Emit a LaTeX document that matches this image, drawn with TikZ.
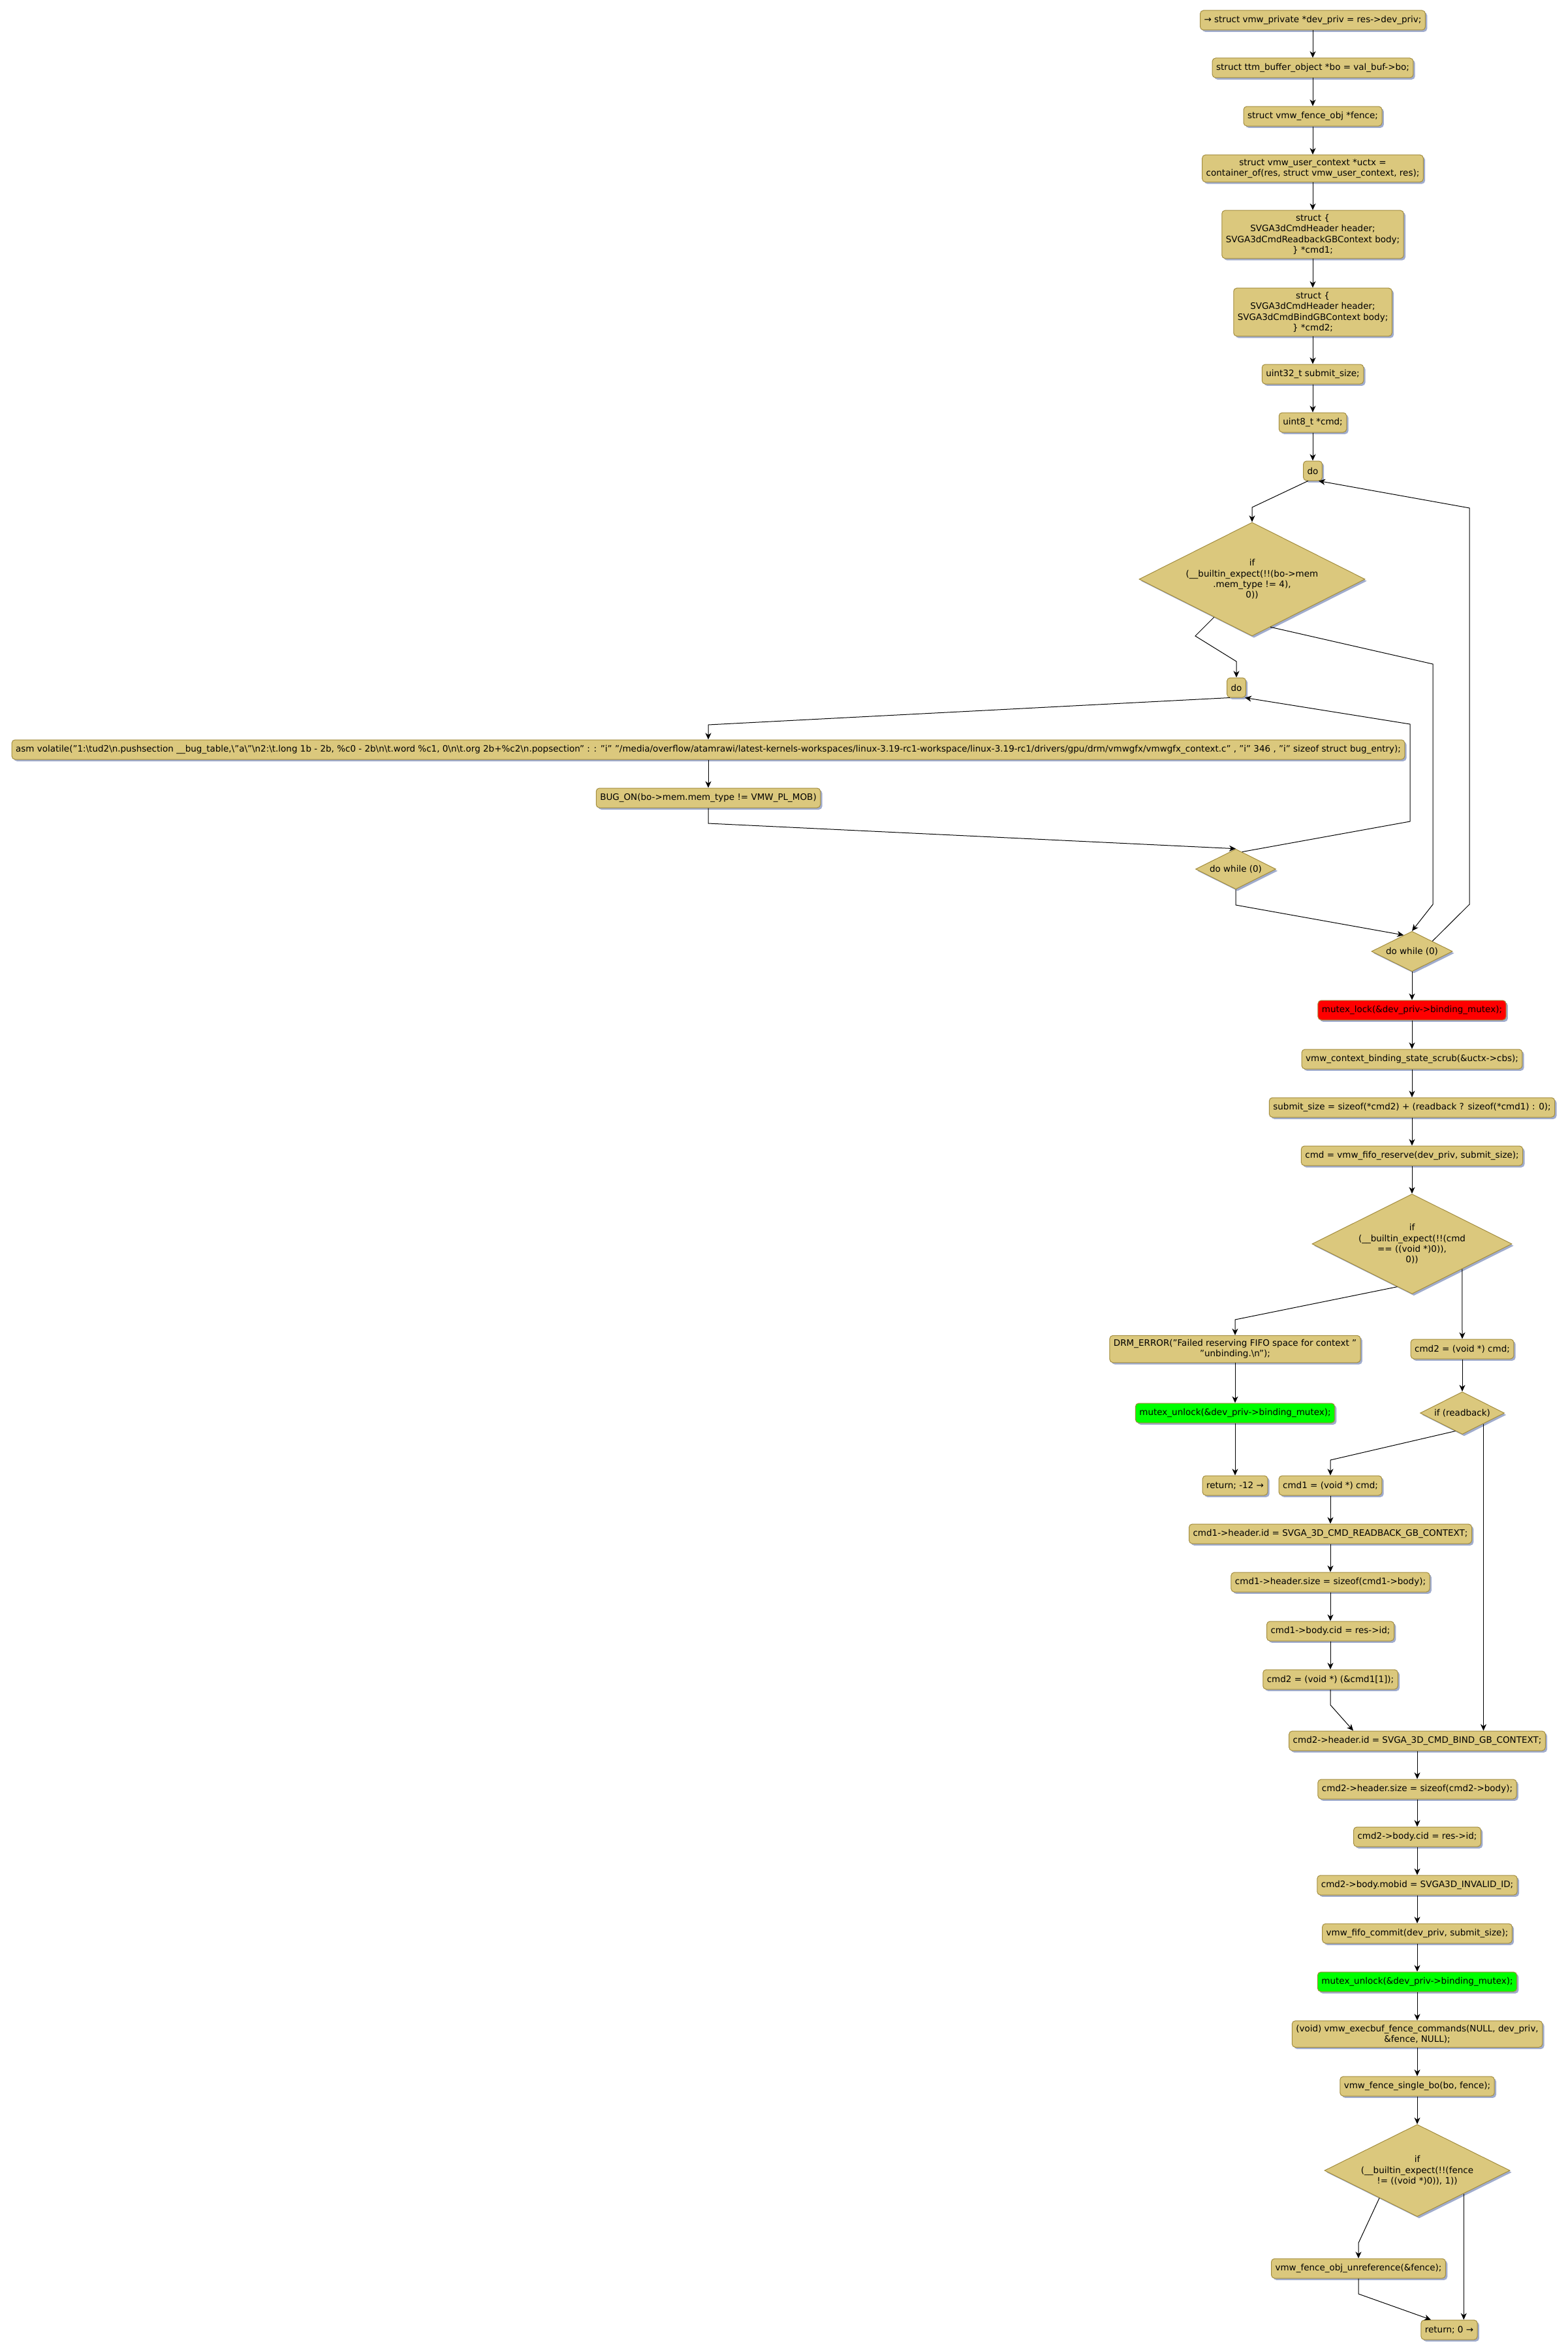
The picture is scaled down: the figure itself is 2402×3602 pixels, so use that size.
\documentclass[tikz,border=0pt]{standalone}
\usepackage{fontspec}
\setmainfont{DejaVu Sans}
\usetikzlibrary{shapes.geometric, arrows.meta, shadows}

\definecolor{boxtan}{RGB}{219,200,125}
\definecolor{boxline}{RGB}{163,141,63}
\definecolor{shadowblue}{RGB}{160,172,205}
\definecolor{lockred}{RGB}{255,0,0}
\definecolor{unlockgreen}{RGB}{0,255,0}
\newcommand{\bsl}{\textbackslash}

\tikzset{
    stmt/.style={rectangle, rounded corners=2.5pt, draw=boxline, fill=boxtan, line width=0.5pt,
        align=center, inner xsep=3pt, inner ysep=3pt, minimum height=15pt,
        font=\fontsize{6.75}{8.2}\selectfont,
        drop shadow={shadow xshift=1.4pt, shadow yshift=-1.4pt, fill=shadowblue, opacity=1}},
    cond/.style={diamond, aspect=2, draw=boxline, fill=boxtan, line width=0.5pt, align=center, inner sep=0pt,
        font=\fontsize{6.75}{8.2}\selectfont,
        drop shadow={shadow xshift=1.4pt, shadow yshift=-1.4pt, fill=shadowblue, opacity=1}},
    flow/.style={-{Stealth[length=5pt, width=4.5pt, inset=1.5pt]}, line width=0.5pt}
}

\begin{document}
\begin{tikzpicture}[x=0.5pt, y=-0.5pt]
        % Canvas
        \fill[white] (0, 0) rectangle (2402, 3602);
        \useasboundingbox (0, 0) rectangle (2402, 3602);

        % Nodes: declarations
        \node (1) [stmt] at (2011, 31) {→ struct vmw\_private *dev\_priv = res->dev\_priv;};
        \node (2) [stmt] at (2011, 104) {struct ttm\_buffer\_object *bo = val\_buf->bo;};
        \node (3) [stmt] at (2011, 178) {struct vmw\_fence\_obj *fence;};
        \node (4) [stmt] at (2011, 258) {struct vmw\_user\_context *uctx =\\container\_of(res, struct vmw\_user\_context, res);};
        \node (5) [stmt] at (2011, 359) {struct \{\\SVGA3dCmdHeader header;\\SVGA3dCmdReadbackGBContext body;\\\} *cmd1;};
        \node (6) [stmt] at (2011, 478) {struct \{\\SVGA3dCmdHeader header;\\SVGA3dCmdBindGBContext body;\\\} *cmd2;};
        \node (7) [stmt] at (2011, 573) {uint32\_t submit\_size;};
        \node (8) [stmt] at (2011, 647) {uint8\_t *cmd;};

        % Nodes: BUG_ON loops
        \node (9) [stmt] at (2011, 721) {do};
        \node (10) [cond, minimum width=173pt, minimum height=87pt] at (1918, 887) {if\\(\_\_builtin\_expect(!!(bo->mem\\.mem\_type != 4),\\0))};
        \node (11) [stmt] at (1894, 1053) {do};
        \node (12) [stmt] at (1085, 1148) {asm volatile("1:\bsl tud2\bsl n.pushsection \_\_bug\_table,\bsl "a\bsl "\bsl n2:\bsl t.long 1b - 2b, \%c0 - 2b\bsl n\bsl t.word \%c1, 0\bsl n\bsl t.org 2b+\%c2\bsl n.popsection" : : "i" "/media/overflow/atamrawi/latest-kernels-workspaces/linux-3.19-rc1-workspace/linux-3.19-rc1/drivers/gpu/drm/vmwgfx/vmwgfx\_context.c" , "i" 346 , "i" sizeof struct bug\_entry);};
        \node (13) [stmt] at (1085, 1222) {BUG\_ON(bo->mem.mem\_type != VMW\_PL\_MOB)};
        \node (14) [cond, minimum width=61.5pt, minimum height=30.75pt] at (1893, 1331) {do while (0)};
        \node (15) [cond, minimum width=62pt, minimum height=30.75pt] at (2163, 1457) {do while (0)};

        % Nodes: reserve
        \node (16) [stmt, fill=lockred] at (2163, 1547) {mutex\_lock(\&dev\_priv->binding\_mutex);};
        \node (17) [stmt] at (2163, 1622) {vmw\_context\_binding\_state\_scrub(\&uctx->cbs);};
        \node (18) [stmt] at (2163, 1696) {submit\_size = sizeof(*cmd2) + (readback ? sizeof(*cmd1) : 0);};
        \node (19) [stmt] at (2163, 1770) {cmd = vmw\_fifo\_reserve(dev\_priv, submit\_size);};
        \node (20) [cond, minimum width=153pt, minimum height=76.5pt] at (2163, 1905) {if\\(\_\_builtin\_expect(!!(cmd\\== ((void *)0)),\\0))};
        \node (21) [stmt] at (1892, 2066) {DRM\_ERROR("Failed reserving FIFO space for context "\\"unbinding.\bsl n");};
        \node (22) [stmt] at (2240, 2066) {cmd2 = (void *) cmd;};
        \node (23) [stmt, fill=unlockgreen] at (1892, 2164) {mutex\_unlock(\&dev\_priv->binding\_mutex);};
        \node (24) [cond, minimum width=64.5pt, minimum height=32.5pt] at (2240, 2164) {if (readback)};
        \node (25) [stmt] at (1892, 2275) {return; -12 →};

        % Nodes: readback command
        \node (26) [stmt] at (2038, 2275) {cmd1 = (void *) cmd;};
        \node (27) [stmt] at (2038, 2349) {cmd1->header.id = SVGA\_3D\_CMD\_READBACK\_GB\_CONTEXT;};
        \node (28) [stmt] at (2038, 2423) {cmd1->header.size = sizeof(cmd1->body);};
        \node (29) [stmt] at (2038, 2498) {cmd1->body.cid = res->id;};
        \node (30) [stmt] at (2038, 2572) {cmd2 = (void *) (\&cmd1[1]);};

        % Nodes: bind command and fence
        \node (31) [stmt] at (2171, 2666) {cmd2->header.id = SVGA\_3D\_CMD\_BIND\_GB\_CONTEXT;};
        \node (32) [stmt] at (2171, 2740) {cmd2->header.size = sizeof(cmd2->body);};
        \node (33) [stmt] at (2171, 2813) {cmd2->body.cid = res->id;};
        \node (34) [stmt] at (2171, 2887) {cmd2->body.mobid = SVGA3D\_INVALID\_ID;};
        \node (35) [stmt] at (2171, 2961) {vmw\_fifo\_commit(dev\_priv, submit\_size);};
        \node (36) [stmt, fill=unlockgreen] at (2171, 3035) {mutex\_unlock(\&dev\_priv->binding\_mutex);};
        \node (37) [stmt] at (2171, 3115) {(void) vmw\_execbuf\_fence\_commands(NULL, dev\_priv,\\\&fence, NULL);};
        \node (38) [stmt] at (2171, 3195) {vmw\_fence\_single\_bo(bo, fence);};
        \node (39) [cond, minimum width=142pt, minimum height=70.5pt] at (2171, 3324) {if\\(\_\_builtin\_expect(!!(fence\\!= ((void *)0)), 1))};
        \node (40) [stmt] at (2081, 3474) {vmw\_fence\_obj\_unreference(\&fence);};
        \node (41) [stmt] at (2220, 3568) {return; 0 →};

        % Bends
        \coordinate (b1) at (1918, 777);
        \coordinate (b2) at (1831, 974);
        \coordinate (b3) at (1894, 1013);
        \coordinate (b4) at (2195, 1017);
        \coordinate (b5) at (2195, 1385);
        \coordinate (b6) at (2251, 1385);
        \coordinate (b7) at (2251, 778);
        \coordinate (b8) at (1085, 1110);
        \coordinate (b9) at (1085, 1261);
        \coordinate (b10) at (2160, 1258);
        \coordinate (b11) at (2160, 1109);
        \coordinate (b12) at (1893, 1386);
        \coordinate (b13) at (1892, 2021);
        \coordinate (b14) at (2038, 2236);
        \coordinate (b15) at (2038, 2611);
        \coordinate (b16) at (2081, 3435);
        \coordinate (b17) at (2081, 3513);

        % Edges
        \draw[flow] (1) -- (2);
        \draw[flow] (2) -- (3);
        \draw[flow] (3) -- (4);
        \draw[flow] (4) -- (5);
        \draw[flow] (5) -- (6);
        \draw[flow] (6) -- (7);
        \draw[flow] (7) -- (8);
        \draw[flow] (8) -- (9);
        \draw[flow] (9.245) -- (b1) -- (10.north);
        \draw[flow] (10.225) -- (b2) -- (b3) -- (11.north);
        \draw[flow] (10.291) -- (b4) -- (b5) -- (15.north);
        \draw[flow] (11.237) -- (b8) -- (12.north);
        \draw[flow] (12) -- (13);
        \draw[flow] (13.south) -- (b9) -- (14.north);
        \draw[flow] (14.70) -- (b10) -- (b11) -- (11.310);
        \draw[flow] (14.south) -- (b12) -- (15.117);
        \draw[flow] (15.north east) -- (b6) -- (b7) -- (9.300);
        \draw[flow] (15) -- (16);
        \draw[flow] (16) -- (17);
        \draw[flow] (17) -- (18);
        \draw[flow] (18) -- (19);
        \draw[flow] (19) -- (20);
        \draw[flow] (20.251) -- (b13) -- (21.north);
        \draw[flow] (20.south east) -- (22.north);
        \draw[flow] (21) -- (23);
        \draw[flow] (23) -- (25);
        \draw[flow] (22) -- (24);
        \draw[flow] (24.249) -- (b14) -- (26.north);
        \draw[flow] (24.south east) -- (24.south east |- 31.north);
        \draw[flow] (26) -- (27);
        \draw[flow] (27) -- (28);
        \draw[flow] (28) -- (29);
        \draw[flow] (29) -- (30);
        \draw[flow] (30.south) -- (b15) -- (31.171);
        \draw[flow] (31) -- (32);
        \draw[flow] (32) -- (33);
        \draw[flow] (33) -- (34);
        \draw[flow] (34) -- (35);
        \draw[flow] (35) -- (36);
        \draw[flow] (36) -- (37);
        \draw[flow] (37) -- (38);
        \draw[flow] (38) -- (39);
        \draw[flow] (39.216) -- (b16) -- (40.north);
        \draw[flow] (39.south east) -- (39.south east |- 41.north);
        \draw[flow] (40.south) -- (b17) -- (41.151);

    \end{tikzpicture}
\end{document}
